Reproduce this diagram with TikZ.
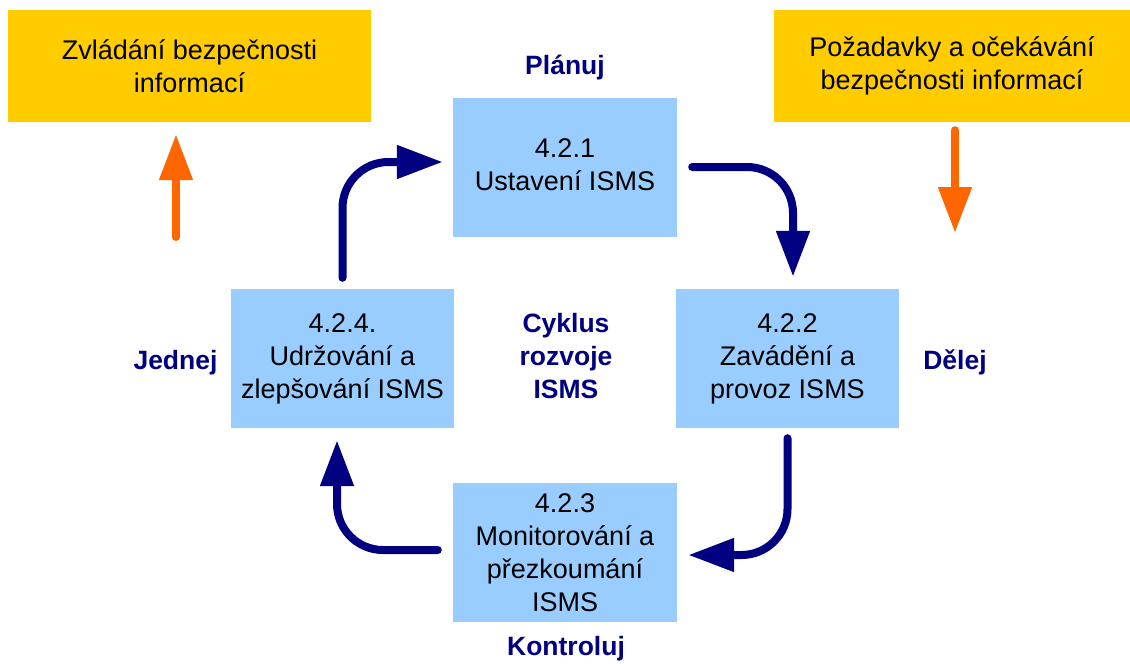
\documentclass[tikz,border=0pt]{standalone}
\usepackage{fontspec}
\setmainfont{Liberation Sans}
\usetikzlibrary{arrows.meta}
\definecolor{isyellow}{HTML}{FFCC00}
\definecolor{isblue}{HTML}{99CCFF}
\definecolor{isnavy}{HTML}{000080}
\definecolor{isorange}{HTML}{FF6600}

\begin{document}
\begin{tikzpicture}[x=1pt,y=-1pt,
    every node/.style={font=\fontsize{27}{33}\selectfont, align=center, inner sep=0pt},
    krok/.style={fill=isblue, minimum width=223pt, minimum height=139pt},
    cil/.style={fill=isyellow, minimum height=112pt},
    faze/.style={text=isnavy, font=\fontsize{26.5}{33}\selectfont\bfseries},
    cyklus/.style={draw=isnavy, line width=8pt, line cap=round, rounded corners=46pt, -{Triangle[length=46pt,width=32pt]}},
    vstup/.style={draw=isorange, line width=8pt, line cap=round, -{Triangle[length=46pt,width=32pt]}}]
    \useasboundingbox (0,0) rectangle (1130,664);
    \node[cil, minimum width=363pt] (zvladani) at (189.5,66) {Zvládání bezpečnosti\\informací};
    \node[cil, minimum width=356pt] (pozadavky) at (952,66) {Požadavky a očekávání\\bezpečnosti informací};
    \node[krok, minimum width=224pt] (ustaveni) at (565,167) {\strut\\4.2.1\\Ustavení ISMS\\\strut};
    \node[krok] (zavadeni) at (787.5,358.5) {4.2.2\\Zavádění a\\provoz ISMS};
    \node[krok, minimum width=224pt] (monitor) at (565,552.5) {4.2.3\\Monitorování a\\přezkoumání\\ISMS};
    \node[krok] (udrzovani) at (342.5,358.5) {4.2.4.\\Udržování a\\zlepšování ISMS};
    \node[faze, anchor=base] (planuj) at (565,74) {Plánuj};
    \node[faze, anchor=base] (delej) at (955,369) {Dělej};
    \node[faze, anchor=base] (kontroluj) at (566,655) {Kontroluj};
    \node[faze, anchor=base] (jednej) at (175.5,369) {Jednej};
    \node[faze] (cyklusisms) at (566,356) {Cyklus\\rozvoje\\ISMS};
    \coordinate (zdola) at (176,237);
    \coordinate (dolu) at (955,233);
    \draw[vstup] (zdola) -- ([xshift=-13.5pt,yshift=-12pt]zvladani.south);
    \draw[vstup] ([xshift=3pt,yshift=-8pt]pozadavky.south) -- (dolu);
    \draw[cyklus] ([yshift=11pt]udrzovani.north) |- ([xshift=-10pt,yshift=5pt]ustaveni.west);
    \draw[cyklus] ([xshift=15pt]ustaveni.east) -| ([xshift=5.5pt,yshift=12pt]zavadeni.north);
    \draw[cyklus] ([yshift=-10pt]zavadeni.south) |- ([xshift=11pt,yshift=-2.5pt]monitor.east);
    \draw[cyklus] ([xshift=-15pt,yshift=2.5pt]monitor.west) -| ([xshift=-5.5pt,yshift=-12pt]udrzovani.south);
\end{tikzpicture}
\end{document}
